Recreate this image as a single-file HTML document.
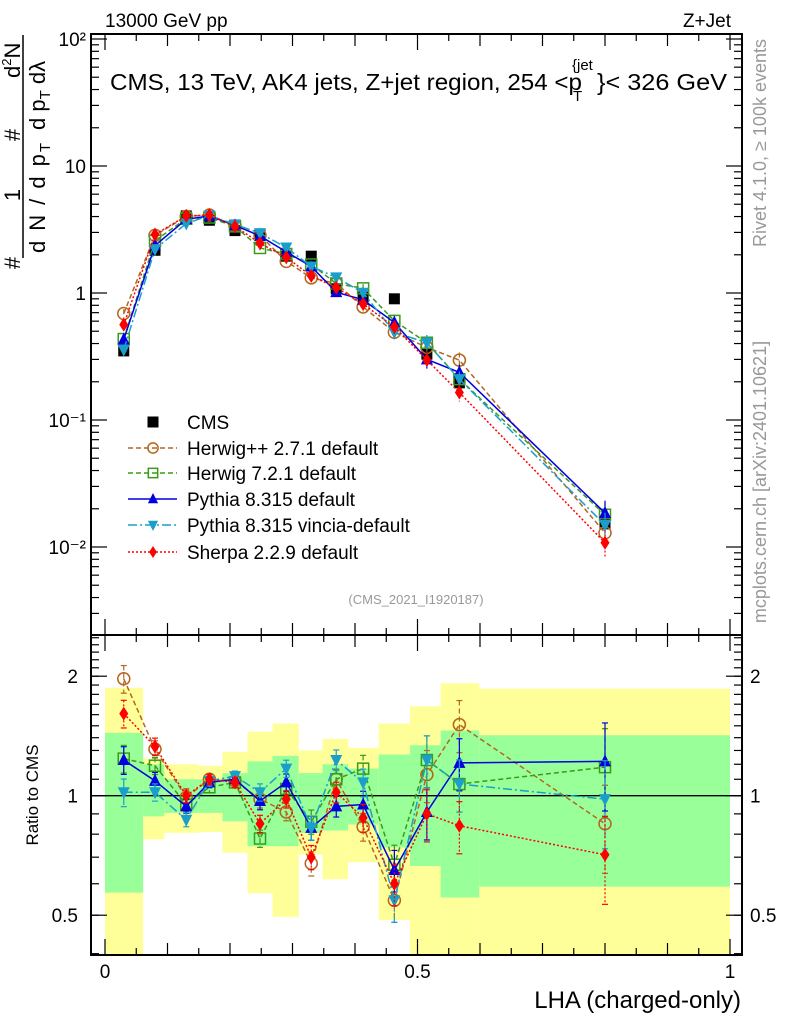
<!DOCTYPE html>
<html><head><meta charset="utf-8"><style>
html,body{margin:0;padding:0;background:#fff;}
svg{display:block;font-family:"Liberation Sans",Arial,sans-serif;}
</style></head><body>
<svg id="chart" width="786" height="1024" viewBox="0 0 786 1024" xmlns="http://www.w3.org/2000/svg">
<defs>
<clipPath id="clipTop"><rect x="91" y="34" width="651" height="601"/></clipPath>
<clipPath id="clipRat"><rect x="91" y="635" width="651" height="320"/></clipPath>
</defs>
<g id="bands" clip-path="url(#clipRat)"></g>
<g id="series"></g>
<g id="frame"></g>
<g id="labels">
<text x="105" y="27" font-size="19">13000 GeV pp</text>
<text x="731" y="27" font-size="19" text-anchor="end">Z+Jet</text>
<text x="110" y="90" font-size="23" textLength="472" lengthAdjust="spacingAndGlyphs">CMS, 13 TeV, AK4 jets, Z+jet region, 254 &lt;p</text>
<text x="572" y="70" font-size="15">{jet</text>
<text x="573" y="101" font-size="15">T</text>
<text x="597" y="90" font-size="23" textLength="130" lengthAdjust="spacingAndGlyphs">}&lt; 326 GeV</text>
<text x="416" y="604" font-size="13" fill="#999" text-anchor="middle">(CMS_2021_I1920187)</text>
<text transform="translate(766,143) rotate(-90)" font-size="18" fill="#999" text-anchor="middle">Rivet 4.1.0, ≥ 100k events</text>
<text transform="translate(766,482) rotate(-90)" font-size="18" fill="#999" text-anchor="middle">mcplots.cern.ch [arXiv:2401.10621]</text>
<text transform="translate(38,795) rotate(-90)" font-size="17" text-anchor="middle">Ratio to CMS</text>
<text x="741" y="1008" font-size="24" text-anchor="end">LHA (charged-only)</text>
<g font-size="22">
<text transform="translate(20,263) rotate(-90)" text-anchor="middle">#</text>
<text transform="translate(20,195) rotate(-90)" text-anchor="middle">1</text>
<line x1="23" y1="258" x2="23" y2="35" stroke="#000" stroke-width="1.5"/>
<text transform="translate(45,253) rotate(-90)" textLength="110">d N / d p<tspan font-size="15" dy="5">T</tspan></text>
<text transform="translate(20,135) rotate(-90)" text-anchor="middle">#</text>
<text transform="translate(20,78) rotate(-90)">d<tspan font-size="13" dy="-9">2</tspan><tspan dy="9">N</tspan></text>
<text transform="translate(45,130) rotate(-90)">d p<tspan font-size="15" dy="5">T</tspan><tspan dy="-5"> dλ</tspan></text>
</g>
</g>
<g id="legend"></g>
</svg>
<script>
const xs = [0.03,0.08,0.13,0.167,0.208,0.248,0.29,0.33,0.37,0.413,0.463,0.515,0.567,0.8];
const binEdges = [0,0.061,0.095,0.15,0.188,0.228,0.268,0.31,0.348,0.389,0.438,0.488,0.537,0.599,1.0];
const cmsVals = [0.35,2.17,4.05,3.74,3.1,2.9,1.95,1.95,1.08,0.93,0.9,0.33,0.196,0.0152];
const band1Up = [1.44,1.20,1.10,1.10,1.14,1.22,1.26,1.14,1.20,1.17,1.27,1.34,1.46,1.42];
const band1Dn = [0.57,0.887,0.905,0.905,0.862,0.746,0.746,0.806,0.817,0.846,0.741,0.665,0.554,0.59];
const band2Up = [1.87,1.24,1.20,1.19,1.29,1.45,1.52,1.30,1.39,1.32,1.52,1.68,1.92,1.86];
const band2Dn = [0.35,0.776,0.806,0.81,0.718,0.568,0.495,0.711,0.616,0.68,0.486,0.35,0.35,0.35];
const ratioHerwigPP = [1.97,1.31,0.99,1.10,1.09,0.98,0.91,0.675,1.10,0.835,0.545,1.13,1.51,0.85];
const ratioHerwig7 = [1.24,1.19,0.95,1.05,1.08,0.78,1.04,0.86,1.10,1.17,0.67,1.23,1.07,1.18];
const ratioPythia = [1.23,1.09,0.94,1.08,1.10,0.97,1.08,0.83,0.94,0.95,0.65,0.91,1.21,1.22];
const ratioVincia = [1.02,1.02,0.87,1.09,1.12,1.02,1.17,0.83,1.23,1.08,0.545,1.23,1.07,0.98];
const ratioSherpa = [1.61,1.33,1.0,1.1,1.08,0.85,0.98,0.70,1.02,0.88,0.60,0.90,0.84,0.71];
const errRel = [0.08,0.05,0.04,0.03,0.03,0.05,0.05,0.07,0.06,0.08,0.12,0.15,0.15,0.25];
const yTickLabels = ["10²","10","1","10⁻¹","10⁻²"];
const yTickVals = [100,10,1,0.1,0.01];
const rTickVals = [2,1,0.5];
const rTickLabels = ["2","1","0.5"];
const xTickVals = [0,0.5,1];
const xTickLabels = ["0","0.5","1"];

const NS="http://www.w3.org/2000/svg";
const X = v => 105 + 625*v;
const Y = v => 293 - 127*Math.log10(v);
const R = v => 795.7 - 119.5*Math.log2(v);
function mk(tag, attrs, parent){const e=document.createElementNS(NS,tag);for(const k in attrs)e.setAttribute(k,attrs[k]);parent.appendChild(e);return e;}

const bands=document.getElementById('bands');
for(let i=0;i<cmsVals.length;i++){
  const x0=X(binEdges[i]), x1=X(binEdges[i+1]);
  const y=mk('rect',{x:x0,y:R(band2Up[i]),width:x1-x0,height:R(band2Dn[i])-R(band2Up[i]),fill:'#ffff99'},bands);
  
  
  const g=mk('rect',{x:x0,y:R(band1Up[i]),width:x1-x0,height:R(band1Dn[i])-R(band1Up[i]),fill:'#99ff99'},bands);
  
  
}
mk('line',{x1:91,y1:R(1),x2:742,y2:R(1),stroke:'#000','stroke-width':1.3},bands);

const series=[
 {name:'herwigpp',label:'Herwig++ 2.7.1 default',color:'#b5651d',dash:'5,3',marker:'circle',r:ratioHerwigPP},
 {name:'herwig7',label:'Herwig 7.2.1 default',color:'#3a9a1a',dash:'5,3',marker:'square',r:ratioHerwig7},
 {name:'pythia',label:'Pythia 8.315 default',color:'#0000e0',dash:'',marker:'tri',r:ratioPythia},
 {name:'vincia',label:'Pythia 8.315 vincia-default',color:'#1a9fcc',dash:'9,3,2,3',marker:'tridown',r:ratioVincia},
 {name:'sherpa',label:'Sherpa 2.2.9 default',color:'#ff0000',dash:'2,2',marker:'diamond',r:ratioSherpa}
];
function marker(type,cx,cy,color,parent,s){
  s=s||1;
  if(type==='circle')return mk('circle',{cx,cy,r:6*s,fill:'none',stroke:color,'stroke-width':1.5},parent);
  if(type==='square')return mk('rect',{x:cx-5.5*s,y:cy-5.5*s,width:11*s,height:11*s,fill:'none',stroke:color,'stroke-width':1.5},parent);
  if(type==='tri')return mk('polygon',{points:`${cx},${cy-7*s} ${cx+6*s},${cy+5*s} ${cx-6*s},${cy+5*s}`,fill:color},parent);
  if(type==='tridown')return mk('polygon',{points:`${cx},${cy+7*s} ${cx+6*s},${cy-5*s} ${cx-6*s},${cy-5*s}`,fill:color},parent);
  if(type==='diamond')return mk('polygon',{points:`${cx},${cy-7*s} ${cx+4.5*s},${cy} ${cx},${cy+7*s} ${cx-4.5*s},${cy}`,fill:color},parent);
  if(type==='cms')return mk('rect',{x:cx-5.5,y:cy-5.5,width:11,height:11,fill:'#000'},parent);
}
const sg=document.getElementById('series');
const topG=mk('g',{'clip-path':'url(#clipTop)'},sg);
const ratG=mk('g',{'clip-path':'url(#clipRat)'},sg);
for(let i=0;i<cmsVals.length;i++){
  const m=marker('cms',X(xs[i]),Y(cmsVals[i]),'#000',topG);
  
  
}
series.forEach(s=>{
  const ptsT=[],ptsR=[];
  for(let i=0;i<xs.length;i++){ptsT.push(X(xs[i])+','+Y(cmsVals[i]*s.r[i]));ptsR.push(X(xs[i])+','+R(s.r[i]));}
  const lt=mk('polyline',{points:ptsT.join(' '),fill:'none',stroke:s.color,'stroke-width':1.5,'stroke-dasharray':s.dash},topG);
  
  
  const lr=mk('polyline',{points:ptsR.join(' '),fill:'none',stroke:s.color,'stroke-width':1.5,'stroke-dasharray':s.dash},ratG);
  
  
  for(let i=0;i<xs.length;i++){
    const cx=X(xs[i]);const v=cmsVals[i]*s.r[i];const e=errRel[i];
    mk('line',{x1:cx,x2:cx,y1:Y(v*(1+e)),y2:Y(v*(1-e)),stroke:s.color,'stroke-width':1.2,'stroke-dasharray':s.dash},topG);
    mk('line',{x1:cx,x2:cx,y1:R(s.r[i]*(1+e)),y2:R(s.r[i]*(1-e)),stroke:s.color,'stroke-width':1.2,'stroke-dasharray':s.dash},ratG);
    mk('line',{x1:cx-3,x2:cx+3,y1:R(s.r[i]*(1+e)),y2:R(s.r[i]*(1+e)),stroke:s.color,'stroke-width':1.2},ratG);
    mk('line',{x1:cx-3,x2:cx+3,y1:R(s.r[i]*(1-e)),y2:R(s.r[i]*(1-e)),stroke:s.color,'stroke-width':1.2},ratG);
    const m1=marker(s.marker,cx,Y(v),s.color,topG);
    
    
    const m2=marker(s.marker,cx,R(s.r[i]),s.color,ratG);
    
    
  }
});

const fr=document.getElementById('frame');
const f1=mk('rect',{x:91,y:34,width:651,height:601,fill:'none',stroke:'#000','stroke-width':2},fr);


const f2=mk('rect',{x:91,y:635,width:651,height:320,fill:'none',stroke:'#000','stroke-width':2},fr);


for(let d=-3;d<=2;d++){for(let k=1;k<10;k++){const v=k*Math.pow(10,d);const y=Y(v);if(y<34||y>635)continue;const L=k===1?16:8;
 mk('line',{x1:91,x2:91+L,y1:y,y2:y,stroke:'#000','stroke-width':1.2},fr);
 mk('line',{x1:742,x2:742-L,y1:y,y2:y,stroke:'#000','stroke-width':1.2},fr);}}
for(let v=0.4;v<=2.55;v+=0.1){const y=R(v);if(y<636||y>954)continue;const L=8;
 mk('line',{x1:91,x2:91+L,y1:y,y2:y,stroke:'#000','stroke-width':1.2},fr);
 mk('line',{x1:742,x2:742-L,y1:y,y2:y,stroke:'#000','stroke-width':1.2},fr);}
rTickVals.forEach((v,i)=>{const y=R(v);
 mk('line',{x1:91,x2:107,y1:y,y2:y,stroke:'#000','stroke-width':1.2},fr);
 mk('line',{x1:742,x2:726,y1:y,y2:y,stroke:'#000','stroke-width':1.2},fr);
 const t=mk('text',{x:78,y:y+7,'font-size':19,'text-anchor':'end'},fr);t.textContent=rTickLabels[i];
 
 
 const t2=mk('text',{x:750,y:y+7,'font-size':19},fr);t2.textContent=rTickLabels[i];
 
 
});
yTickVals.forEach((v,i)=>{const t=mk('text',{x:86,y:Y(v)+7,'font-size':19,'text-anchor':'end'},fr);t.textContent=yTickLabels[i];
 
 });
for(let k=0;k<=20;k++){const v=k*0.05;const x=X(v);const L=(k%10===0)?16:(k%2===0?12:7);
 [34,635].forEach(y0=>{mk('line',{x1:x,x2:x,y1:y0,y2:y0+L,stroke:'#000','stroke-width':1.2},fr);});
 [635,955].forEach(y0=>{mk('line',{x1:x,x2:x,y1:y0,y2:y0-L,stroke:'#000','stroke-width':1.2},fr);});}
xTickVals.forEach((v,i)=>{const t=mk('text',{x:X(v),y:978,'font-size':19,'text-anchor':'middle'},fr);t.textContent=xTickLabels[i];
 
 });

const lg=document.getElementById('legend');
const rowsY=[422,448,473,499,525,552];
const cm=marker('cms',153,rowsY[0],'#000',lg);


const ct=mk('text',{x:187,y:rowsY[0]+7,'font-size':19},lg);ct.textContent='CMS';


series.forEach((s,i)=>{const y=rowsY[i+1];
 mk('line',{x1:128,x2:177,y1:y,y2:y,stroke:s.color,'stroke-width':1.5,'stroke-dasharray':s.dash},lg);
 marker(s.marker,153,y,s.color,lg,0.85);
 const t=mk('text',{x:187,y:y+7,'font-size':19},lg);t.textContent=s.label;
 
 
});
</script>
</body></html>
